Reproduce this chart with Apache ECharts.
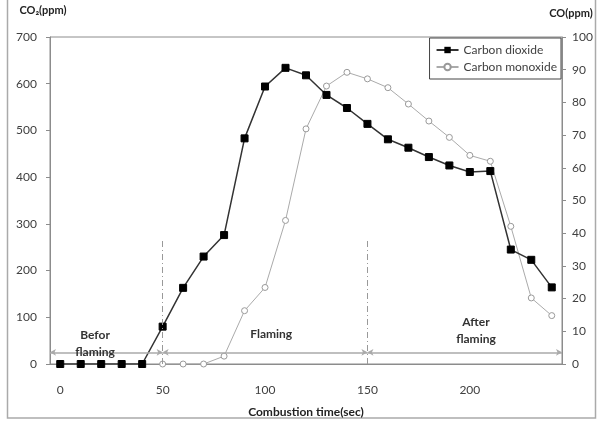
<!DOCTYPE html>
<html>
<head>
<meta charset="utf-8">
<script src="https://cdn.jsdelivr.net/npm/echarts@6/dist/echarts.min.js"></script>
<style>html,body{margin:0;padding:0;background:#fff}#c{width:604px;height:423px}</style>
</head>
<body>
<div id="c"></div>
<script>
var times = [0,10,20,30,40,50,60,70,80,90,100,110,120,130,140,150,160,170,180,190,200,210,220,230,240];
var co2 = [0,0,0,0,0,80,163,230,276,483,594,634,618,576,548,514,481,463,443,425,411,413,245,223,164];
var co = [null,null,null,null,null,0,0,0,2.4,16.3,23.4,43.9,71.9,85,89.2,87.2,84.5,79.5,74.3,69.3,63.8,62,42.1,20.2,14.8];
var xTickLabels = [0,50,100,150,200];
var phaseBounds = [-5,50,150,245];
var phaseNames = ['Befor\nflaming','Flaming','After\nflaming'];

var FONT = 'Lato';
function pairs(xs, ys){ var r=[]; for(var i=0;i<xs.length;i++){ if(ys[i]!==null) r.push([xs[i], ys[i]]);} return r; }

var chart = echarts.init(document.getElementById('c'));
var axisGray = '#8c8c8c';
var txt = '#404040';

var arrowData = [];
for (var i=0;i<phaseBounds.length-1;i++){
  arrowData.push([{coord:[phaseBounds[i],25]},{coord:[phaseBounds[i+1],25]}]);
}
var dashData = [
  [{coord:[50,0]},{coord:[50,264]}],
  [{coord:[150,0]},{coord:[150,264]}]
];
var labelPos = [[17,43],[103,64],[203,72]];

chart.setOption({
  animation:false,
  textStyle:{fontFamily:FONT},
  graphic:[{type:'rect', shape:{x:7.5,y:-2,width:588,height:420}, style:{fill:'none',stroke:'#aaaaaa',lineWidth:1.5}, silent:true}],
  grid:{left:50,right:42,top:37,bottom:55,show:true,borderColor:axisGray,borderWidth:1},
  legend:{
    orient:'vertical', right:43, top:38, itemGap:5, itemWidth:22, itemHeight:8,
    padding:[6,4,6,6], borderColor:'#444', borderWidth:1,
    textStyle:{fontFamily:FONT,fontSize:12,color:txt},
    data:['Carbon dioxide','Carbon monoxide']
  },
  xAxis:{
    type:'value', min:-5, max:245,
    name:'Combustion time(sec)', nameLocation:'middle', nameGap:42,
    nameTextStyle:{fontFamily:FONT,fontWeight:'bold',fontSize:12,color:'#222'},
    axisLine:{show:true,onZero:false,lineStyle:{color:axisGray}},
    axisTick:{show:false},
    axisLabel:{customValues:xTickLabels, margin:20, fontSize:12, color:txt, fontFamily:FONT},
    splitLine:{show:false}
  },
  yAxis:[{
    type:'value', min:0, max:700, interval:100, position:'left',
    name:'CO₂(ppm)', nameLocation:'end', nameGap:21,
    nameTextStyle:{fontFamily:FONT,fontWeight:'bold',fontSize:11,color:'#222',align:'center',padding:[0,14,0,0]},
    axisLine:{show:true,onZero:false,lineStyle:{color:axisGray}},
    axisTick:{show:true,length:4,lineStyle:{color:axisGray}},
    axisLabel:{margin:13,fontSize:12,color:txt,fontFamily:FONT},
    splitLine:{show:false}
  },{
    type:'value', min:0, max:100, interval:10, position:'right',
    name:'CO(ppm)', nameLocation:'end', nameGap:18,
    nameTextStyle:{fontFamily:FONT,fontWeight:'bold',fontSize:11,color:'#222',align:'center',padding:[0,0,0,18]},
    axisLine:{show:true,onZero:false,lineStyle:{color:axisGray}},
    axisTick:{show:true,length:4,lineStyle:{color:axisGray}},
    axisLabel:{margin:10,fontSize:12,color:txt,fontFamily:FONT},
    splitLine:{show:false}
  }],
  series:[{
    name:'Carbon dioxide', type:'line', yAxisIndex:0,
    data:pairs(times, co2),
    symbol:'rect', symbolSize:7,
    itemStyle:{color:'#000',borderColor:'#000'},
    lineStyle:{color:'#333',width:1.5},
    z:3,
    markLine:{
      silent:true, label:{show:false}, symbol:['none','none'],
      lineStyle:{color:'#999',width:1,type:[6,3,1,3]},
      data:dashData
    },
    markPoint:{
      silent:true, symbol:'circle', symbolSize:0,
      label:{show:true, position:'inside', fontFamily:FONT, fontWeight:'bold', fontSize:12, color:'#333', lineHeight:17},
      data:labelPos.map(function(p,i){ return {coord:p, value:phaseNames[i], label:{formatter:phaseNames[i]}}; })
    }
  },{
    name:'Carbon monoxide', type:'line', yAxisIndex:1,
    data:pairs(times, co),
    symbol:'circle', symbolSize:6,
    itemStyle:{color:'#fff',borderColor:'#999',borderWidth:1},
    lineStyle:{color:'#aaa',width:1},
    z:2,
    markLine:{
      silent:true, label:{show:false}, symbol:['arrow','arrow'], symbolSize:[5,6],
      lineStyle:{color:'#aaa',width:1.5,type:'solid'},
      data:arrowData.map(function(d){ return [{coord:[d[0].coord[0], d[0].coord[1]/7]},{coord:[d[1].coord[0], d[1].coord[1]/7]}]; })
    }
  }]
});
</script>
</body>
</html>
